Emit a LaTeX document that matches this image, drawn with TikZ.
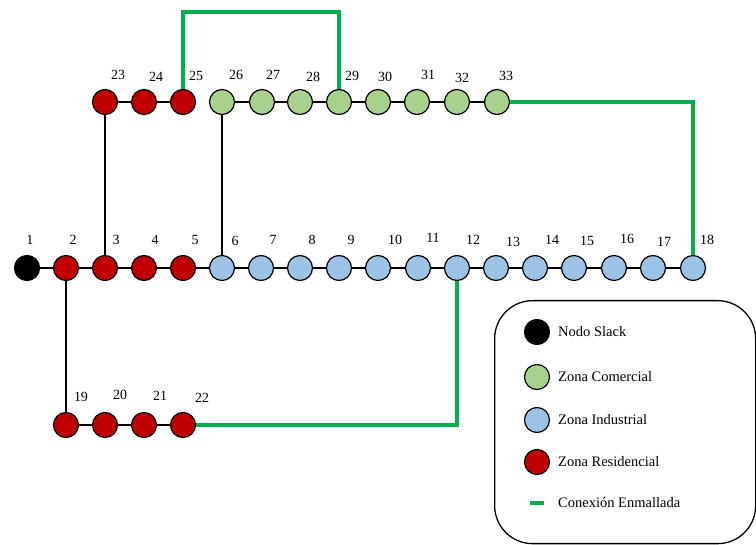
\documentclass[tikz,border=0pt]{standalone}
\usepackage{fontspec}
\setmainfont{Liberation Serif}
\definecolor{resid}{HTML}{C00000}
\definecolor{comer}{HTML}{A9D18E}
\definecolor{indus}{HTML}{9DC3E6}
\definecolor{malla}{HTML}{00B050}
\tikzset{
  bus/.style={circle, draw=black, line width=1.2pt, minimum size=25pt, inner sep=0pt},
  slack/.style={bus, fill=black},
  res/.style={bus, fill=resid},
  com/.style={bus, fill=comer},
  ind/.style={bus, fill=indus},
  num/.style={font=\fontsize{14}{16}\selectfont, inner sep=0pt},
  leg/.style={font=\fontsize{14.5}{17}\selectfont, anchor=west, inner sep=0pt},
  tramo/.style={line width=1.3pt, black},
  enmalla/.style={line width=4pt, malla},
}
\begin{document}
\begin{tikzpicture}[x=1pt, y=-1pt]
\useasboundingbox (0,0) rectangle (756,545);

% main feeder
\node[slack] (n1) at (27,268) {};
\foreach \i/\x in {2/66,3/105,4/144,5/183}
  \node[res] (n\i) at (\x,268) {};
\foreach \i/\x in {6/222,7/261,8/300,9/339,10/378,11/418,12/457,13/496,14/535,15/574,16/614,17/653,18/693}
  \node[ind] (n\i) at (\x,268) {};
% upper branch
\foreach \i/\x in {23/105,24/144,25/183}
  \node[res] (n\i) at (\x,102) {};
\foreach \i/\x in {26/222,27/262,28/300,29/339,30/378,31/417,32/457,33/497}
  \node[com] (n\i) at (\x,102) {};
% lower branch
\foreach \i/\x in {19/66,20/105,21/144,22/183}
  \node[res] (n\i) at (\x,425) {};

% bus numbers
\foreach \i/\x/\y in {1/30/240,2/73/240,3/116/240,4/155/240,5/195/240,6/235/241,7/273/240,8/312/240,9/351/240,
  10/395/240,11/433/238,12/473/240,13/513/242,14/552/240,15/587/241,16/627/239,17/664/242,18/707/240,
  23/118/75,24/156/77,25/196/76,26/236/75,27/273/75,28/313/77,29/352/76,30/385/77,31/428/75,32/462/78,33/506/76,
  19/81/397,20/120/395,21/160/396,22/202/398}
  \node[num] (l\i) at (\x,\y) {\i};

% line sections
\foreach \a/\b in {1/2,2/3,3/4,4/5,5/6,6/7,7/8,8/9,9/10,10/11,11/12,12/13,13/14,14/15,15/16,16/17,17/18,
  23/24,24/25,26/27,27/28,28/29,29/30,30/31,31/32,32/33,19/20,20/21,21/22}
  \draw[tramo] (n\a) -- (n\b);
\draw[tramo] (n3) -- (n23);
\draw[tramo] (n6) -- (n26);
\draw[tramo] (n2) -- (n19);

% meshed ties
\coordinate (c1) at (183,12);
\coordinate (c2) at (339,12);
\coordinate (c3) at (693,102);
\coordinate (c4) at (457,425);
\draw[enmalla] (n25.north) -- (c1) -- (c2) -- (n29.north);
\draw[enmalla] (n33.east) -- (c3) -- (n18.north);
\draw[enmalla] (n12.south) -- (c4) -- (n22.east);

% legend
\node[draw=black, line width=1.3pt, rounded corners=38pt, minimum width=261pt, minimum height=243pt,
  anchor=north west, inner sep=0pt] (box) at (494,300) {};
\node[slack] (k1) at (537,332) {};
\node[com] (k2) at (537,377) {};
\node[ind] (k3) at (537,420) {};
\node[res] (k4) at (537,462) {};
\coordinate (d1) at (530,503);
\coordinate (d2) at (544,503);
\draw[enmalla] (d1) -- (d2);
\node[leg] (t1) at (558,332) {Nodo Slack};
\node[leg] (t2) at (558,377) {Zona Comercial};
\node[leg] (t3) at (558,420) {Zona Industrial};
\node[leg] (t4) at (558,462) {Zona Residencial};
\node[leg] (t5) at (558,503) {Conexión Enmallada};
\end{tikzpicture}
\end{document}
